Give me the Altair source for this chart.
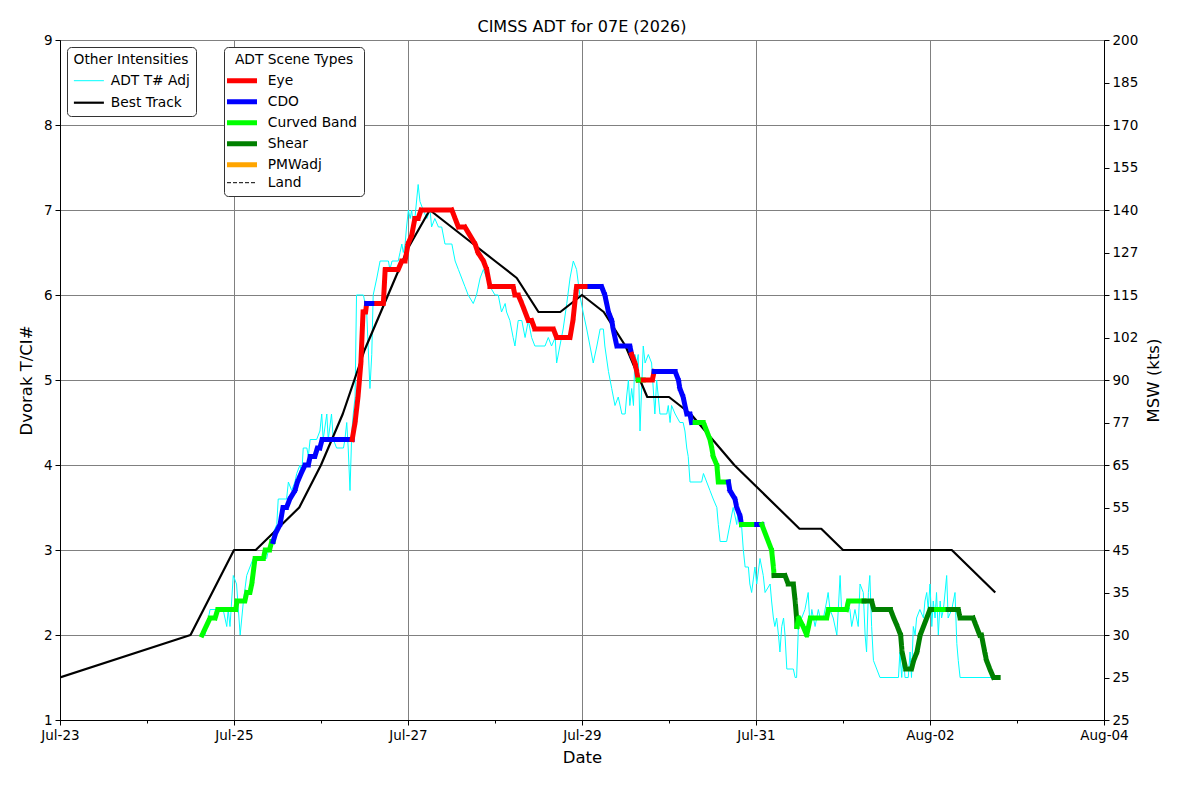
import altair as alt
import pandas as pd

# ---------------- data ----------------
START = "2026-07-23T00:00:00Z"
T0 = int(pd.Timestamp(START).value // 10**6)
HOUR = 3600000
DAY = 86400000
N_DAYS = 12

# Best Track (hours after 23 Jul 00Z, Dvorak T#)
bt_hours = [0, 36, 48, 54, 60, 66, 72, 78, 84, 90, 96, 102, 108, 114, 120, 126,
            132, 138, 144, 150, 156, 162, 168, 174, 180, 186, 192, 198, 204, 210,
            216, 222, 228, 234, 240, 246, 252, 258]
bt_tnum = [1.5, 2.0, 3.0, 3.0, 3.25, 3.5, 4.0, 4.6, 5.35, 5.95, 6.55, 7.0, 6.8, 6.6, 6.4, 6.2,
           5.8, 5.8, 6.0, 5.8, 5.4, 4.8, 4.8, 4.6, 4.3, 4.0, 3.75, 3.5, 3.25, 3.25,
           3.0, 3.0, 3.0, 3.0, 3.0, 3.0, 2.75, 2.5]

# ADT T# Adj (hours, T#)
adt_points = [
    (38.6, 2.0), (40.0, 2.0), (41.4, 2.3), (45.0, 2.3), (46.0, 2.1), (46.4, 2.3), (46.9, 2.1),
    (47.8, 2.7), (48.7, 2.6), (49.7, 2.0), (50.6, 2.4), (51.5, 2.7), (52.4, 2.8), (53.3, 2.9),
    (57.0, 2.9), (57.5, 3.0), (58.4, 3.1), (58.8, 3.2), (59.8, 3.3), (60.2, 3.6), (62.5, 3.6),
    (63.0, 3.8), (63.9, 3.7), (64.8, 3.8), (65.3, 3.9), (66.2, 4.0), (66.7, 3.9), (67.1, 4.2),
    (68.1, 4.2), (68.5, 4.1), (69.0, 4.3), (70.8, 4.3), (71.7, 4.4), (72.2, 4.6), (72.6, 4.3),
    (73.6, 4.6), (74.0, 4.3), (74.9, 4.6), (75.4, 4.3), (76.3, 4.2), (78.2, 4.2), (78.6, 4.3),
    (79.1, 4.5), (79.5, 4.2), (80.0, 3.7), (80.5, 4.4), (80.9, 4.6), (81.4, 4.8), (81.8, 6.0),
    (83.7, 6.0), (84.6, 5.8), (85.5, 4.9), (86.0, 5.3), (86.4, 6.0), (87.4, 6.2), (88.3, 6.4),
    (90.6, 6.4), (91.0, 6.3), (91.6, 6.4), (93.3, 6.4), (93.8, 6.5), (94.3, 6.6), (94.7, 6.5),
    (95.2, 6.6), (95.6, 6.8), (96.1, 7.0), (96.6, 6.9), (97.0, 7.0), (97.5, 6.8), (97.9, 6.9),
    (98.8, 7.3), (99.3, 7.1), (100.2, 7.0), (101.2, 6.9), (102.1, 7.0), (102.5, 6.8), (103.4, 6.9),
    (104.4, 6.8), (105.3, 6.8), (106.2, 6.6), (108.1, 6.6), (109.0, 6.4), (109.9, 6.3), (110.8, 6.2),
    (111.7, 6.1), (112.6, 6.0), (114.0, 5.9), (114.9, 6.0), (115.9, 6.2), (116.8, 6.3), (117.7, 6.2),
    (118.6, 6.1), (120.0, 6.0), (120.9, 6.0), (121.8, 5.8), (122.8, 5.9), (123.2, 5.8), (124.1, 5.7),
    (125.0, 5.5), (125.5, 5.4), (126.4, 5.7), (127.4, 5.7), (128.3, 5.5), (129.2, 5.7), (130.1, 5.5),
    (131.0, 5.4), (133.8, 5.4), (134.7, 5.5), (135.6, 5.4), (136.6, 5.5), (137.0, 5.2), (137.9, 5.4),
    (138.8, 5.6), (139.8, 5.9), (140.7, 6.2), (141.6, 6.4), (142.5, 6.3), (143.4, 6.0), (144.3, 5.8),
    (145.3, 5.6), (146.2, 5.4), (147.1, 5.2), (148.1, 5.4), (149.0, 5.6), (149.9, 5.6), (150.3, 5.4),
    (151.3, 5.1), (152.2, 4.9), (153.1, 4.7), (154.0, 4.8), (155.0, 4.6), (155.9, 4.6), (156.3, 4.8),
    (156.8, 5.0), (157.2, 4.7), (157.7, 4.9), (158.2, 4.7), (158.6, 5.3), (159.1, 5.2), (159.5, 5.3),
    (160.0, 4.4), (160.9, 5.4), (161.4, 5.2), (162.3, 5.3), (163.2, 5.2), (164.1, 4.6), (164.6, 5.0),
    (165.5, 4.6), (167.4, 4.6), (167.8, 4.7), (168.3, 4.5), (168.7, 4.7), (169.7, 4.6), (171.0, 4.5),
    (171.9, 4.5), (172.4, 4.4), (172.9, 4.2), (173.3, 4.1), (173.8, 3.8), (177.0, 3.8), (177.5, 3.9),
    (178.4, 3.8), (179.3, 3.7), (180.2, 3.6), (181.2, 3.5), (181.6, 3.3), (182.1, 3.1), (183.9, 3.1),
    (184.8, 3.3), (185.7, 3.5), (186.7, 3.3), (187.1, 3.5), (187.6, 3.4), (188.0, 3.3), (188.5, 3.0),
    (189.0, 2.8), (189.9, 2.8), (190.3, 2.6), (190.8, 2.5), (191.7, 2.8), (192.2, 2.6), (193.1, 2.9),
    (194.0, 2.7), (194.5, 2.5), (195.9, 2.6), (196.3, 2.4), (196.8, 2.2), (197.2, 2.1), (197.7, 2.2),
    (198.2, 2.0), (198.6, 1.8), (199.1, 2.1), (199.6, 2.2), (200.0, 2.0), (200.5, 1.6), (202.3, 1.6),
    (202.8, 1.5), (203.2, 1.5), (203.7, 2.1), (204.6, 2.2), (205.5, 2.3), (206.4, 2.5), (206.9, 2.1),
    (207.4, 2.3), (208.3, 2.1), (209.2, 2.3), (209.7, 2.2), (210.6, 2.2), (211.5, 2.4), (211.9, 2.5),
    (212.4, 2.3), (213.3, 2.2), (214.3, 2.0), (214.7, 2.3), (215.2, 2.7), (215.6, 2.3), (216.6, 2.3),
    (217.0, 2.4), (217.9, 2.3), (218.4, 2.1), (219.3, 2.3), (220.2, 2.1), (220.7, 2.6), (221.6, 2.5),
    (222.1, 2.0), (222.5, 1.8), (223.0, 2.5), (223.4, 2.7), (223.9, 2.1), (224.4, 1.7), (225.3, 1.6),
    (226.2, 1.5), (231.3, 1.5), (231.7, 1.8), (232.2, 1.5), (232.6, 1.8), (233.1, 1.5), (234.0, 1.5),
    (234.5, 1.8), (234.9, 1.5), (235.4, 2.1), (235.9, 2.0), (236.3, 2.2), (237.2, 2.3), (238.2, 2.2),
    (238.6, 2.4), (239.1, 2.5), (239.5, 2.3), (240.0, 2.6), (240.5, 2.1), (240.9, 2.4), (241.4, 2.2),
    (241.8, 2.5), (242.3, 2.0), (242.8, 2.4), (243.2, 2.2), (243.7, 2.3), (244.6, 2.7), (245.0, 2.2),
    (246.0, 2.3), (246.9, 2.5), (247.4, 1.9), (247.8, 1.7), (248.3, 1.5), (257.9, 1.5),
]

# ADT final T# coloured by scene type: runs of (scene, [(hours, T#), ...])
scene_runs = [
    ("Curved Band", [(39.2, 2.0), (40.3, 2.1), (41.4, 2.2), (42.8, 2.2), (43.5, 2.3), (48.5, 2.3),
                     (48.8, 2.4), (51.0, 2.4), (51.5, 2.5), (52.4, 2.5), (52.9, 2.6), (53.8, 2.9),
                     (56.1, 2.9), (56.6, 3.0), (57.8, 3.0), (58.4, 3.1), (58.8, 3.1)]),
    ("CDO", [(58.8, 3.1), (59.5, 3.2), (60.7, 3.3), (61.5, 3.5), (62.5, 3.5), (63.4, 3.6),
             (64.8, 3.7), (65.5, 3.8), (66.5, 3.9), (67.6, 4.0), (68.5, 4.0), (69.0, 4.1),
             (70.3, 4.1), (71.0, 4.2), (71.7, 4.2), (72.3, 4.3), (80.6, 4.3)]),
    ("Eye", [(80.6, 4.3), (81.4, 4.5), (82.2, 4.8), (83.0, 5.2), (83.6, 5.8), (84.3, 5.8), (84.6, 5.9)]),
    ("CDO", [(84.6, 5.9), (87.4, 5.9)]),
    ("Eye", [(87.4, 5.9), (89.2, 5.9), (89.7, 6.3), (93.3, 6.3), (94.3, 6.4), (95.2, 6.4),
             (96.0, 6.6), (97.0, 6.7), (97.9, 6.9), (98.8, 6.9), (99.6, 7.0), (108.1, 7.0),
             (109.0, 6.9), (109.9, 6.8), (111.7, 6.8), (113.1, 6.7), (114.5, 6.6), (115.3, 6.5),
             (116.8, 6.4), (117.7, 6.3), (118.6, 6.1), (125.0, 6.1), (125.5, 6.0), (126.4, 6.0),
             (127.4, 5.9), (128.3, 5.8), (129.2, 5.7), (130.1, 5.7), (131.0, 5.6), (136.1, 5.6),
             (137.0, 5.5), (140.7, 5.5), (141.5, 5.7), (142.5, 6.1), (146.2, 6.1)]),
    ("CDO", [(146.2, 6.1), (149.4, 6.1), (150.3, 6.0), (151.3, 5.8), (152.2, 5.7), (152.6, 5.6),
             (153.1, 5.5), (153.6, 5.4), (157.2, 5.4), (157.7, 5.3)]),
    ("Eye", [(157.7, 5.3), (158.6, 5.2), (159.1, 5.1), (159.5, 5.0)]),
    ("Curved Band", [(159.5, 5.0), (160.9, 5.0)]),
    ("Eye", [(160.9, 5.0), (163.4, 5.0), (163.9, 5.1)]),
    ("CDO", [(163.9, 5.1), (169.7, 5.1), (170.6, 5.0), (171.0, 4.9), (171.9, 4.8), (172.4, 4.7),
             (172.9, 4.6), (173.8, 4.6), (174.2, 4.5), (175.2, 4.5)]),
    ("Curved Band", [(175.2, 4.5), (177.5, 4.5), (178.4, 4.4), (179.3, 4.3), (179.8, 4.2),
                     (180.2, 4.1), (181.2, 4.0), (181.6, 3.8), (184.4, 3.8)]),
    ("CDO", [(184.4, 3.8), (184.8, 3.7), (186.2, 3.6), (186.7, 3.5), (187.6, 3.4), (188.0, 3.3)]),
    ("Curved Band", [(188.0, 3.3), (192.2, 3.3)]),
    ("CDO", [(192.2, 3.3), (193.6, 3.3)]),
    ("Curved Band", [(193.6, 3.3), (194.5, 3.2), (195.4, 3.1), (196.3, 3.0), (196.8, 2.8), (197.0, 2.7)]),
    ("Shear", [(197.0, 2.7), (200.0, 2.7), (200.9, 2.6), (202.3, 2.6), (202.8, 2.4), (203.2, 2.2),
               (203.3, 2.1)]),
    ("Curved Band", [(203.3, 2.1), (203.8, 2.2), (205.0, 2.1), (206.0, 2.0), (207.0, 2.2), (211.5, 2.2),
                     (212.0, 2.3), (217.0, 2.3), (217.5, 2.4), (221.8, 2.4)]),
    ("Shear", [(221.8, 2.4), (223.9, 2.4), (224.5, 2.3), (229.1, 2.3), (230.0, 2.2), (231.0, 2.1),
               (231.9, 2.0), (232.3, 1.8), (232.8, 1.7), (233.3, 1.6), (234.9, 1.6), (235.5, 1.7),
               (236.4, 1.8), (237.3, 2.0), (238.2, 2.1), (239.1, 2.2), (240.0, 2.3), (241.8, 2.3)]),
    ("Curved Band", [(241.8, 2.3), (245.0, 2.3)]),
    ("Shear", [(245.0, 2.3), (247.8, 2.3), (248.3, 2.2), (251.9, 2.2), (252.8, 2.1), (253.7, 2.0),
               (254.2, 2.0), (255.1, 1.8), (255.6, 1.7), (256.5, 1.6), (257.5, 1.5), (258.8, 1.5)]),
]

other_names = ["ADT T# Adj", "Best Track"]
other_colors = ["#00ffff", "#000000"]
other_widths = [1, 2.2]

scene_names = ["Eye", "CDO", "Curved Band", "Shear", "PMWadj", "Land"]
scene_colors = ["#ff0000", "#0000ff", "#00ff00", "#008000", "#ffa500", "#000000"]
scene_dash = [[1, 0], [1, 0], [1, 0], [1, 0], [1, 0], [4, 2]]
scene_widths = [5, 5, 5, 5, 5, 1]

tnum_ticks = [1, 1.5, 2, 2.5, 3, 3.5, 4, 4.5, 5, 5.5, 6, 6.5, 7, 7.5, 8, 8.5, 9]
msw_labels = ["25", "25", "30", "35", "45", "55", "65", "77", "90", "102",
              "115", "127", "140", "155", "170", "185", "200"]

# ---------------- tables ----------------
def ts(h):
    return T0 + int(round(h * HOUR))

other_rows = [{"t": ts(h), "v": v, "series": "ADT T# Adj"} for h, v in adt_points]
other_rows += [{"t": ts(h), "v": v, "series": "Best Track"} for h, v in zip(bt_hours, bt_tnum)]
other_df = pd.DataFrame(other_rows)

scene_rows = []
for i, (name, pts) in enumerate(scene_runs):
    for h, v in pts:
        scene_rows.append({"t": ts(h), "v": v, "scene": name, "seg": i})
scene_df = pd.DataFrame(scene_rows)

bt_df = pd.DataFrame({"t": [ts(h) for h in bt_hours], "v": bt_tnum})

# ---------------- encodings ----------------
FONT = "DejaVu Sans"
even = f"round((datum.value - {T0}) / {DAY}) % 2 == 0"

x_enc = alt.X(
    "t:T",
    scale=alt.Scale(type="utc", domain=[T0, T0 + N_DAYS * DAY]),
    axis=alt.Axis(
        values=[T0 + d * DAY for d in range(N_DAYS + 1)],
        labelExpr=f"{even} ? utcFormat(datum.value, '%b-%d') : ''",
        title="Date",
        grid=True,
        gridColor="#808080",
        gridOpacity={"condition": {"test": even, "value": 1}, "value": 0},
        tickSize={"condition": {"test": even, "value": 5}, "value": 3},
        labelPadding=3,
        titlePadding=8,
        labelFlush=False,
        labelOverlap=False,
    ),
)

y_scale = alt.Scale(domain=[1, 9], nice=False, zero=False)

y_left = alt.Y(
    "v:Q",
    scale=y_scale,
    axis=alt.Axis(
        values=list(range(1, 10)),
        title="Dvorak T/CI#",
        grid=True,
        gridColor="#808080",
        tickSize=5,
        labelPadding=3,
        titlePadding=9,
        labelFlush=False,
    ),
)

leg_common = dict(
    orient="none",
    columns=1,
    direction="vertical",
    symbolSize=36,
    titleAnchor="middle",
    titleFontWeight="normal",
    titleFontSize=13.8,
    labelFontSize=13.8,
    titleColor="black",
    labelColor="black",
    strokeColor="#333333",
    fillColor="white",
    cornerRadius=4,
    padding=6,
    titlePadding=7,
)
leg_other = alt.Legend(title="Other Intensities", legendX=7, legendY=7, labelOffset=24,
                       symbolType="M-2,0L8,0", rowPadding=7, **leg_common)
leg_scene = alt.Legend(title="ADT Scene Types", legendX=164, legendY=7, labelOffset=24,
                       symbolType="M-3.3,0L6.7,0", rowPadding=0, **leg_common)

other = alt.Chart(other_df).mark_line(clip=True, strokeJoin="round").encode(
    x=x_enc,
    y=y_left,
    color=alt.Color("series:N", scale=alt.Scale(domain=other_names, range=other_colors), legend=leg_other),
    strokeWidth=alt.StrokeWidth("series:N",
                                scale=alt.Scale(type="ordinal", domain=other_names, range=other_widths),
                                legend=leg_other),
)

scene = alt.Chart(scene_df).mark_line(clip=True, strokeJoin="round", strokeCap="square").encode(
    x="t:T",
    y=alt.Y("v:Q", scale=y_scale, axis=None),
    color=alt.Color("scene:N", scale=alt.Scale(domain=scene_names, range=scene_colors), legend=leg_scene),
    strokeDash=alt.StrokeDash("scene:N", scale=alt.Scale(domain=scene_names, range=scene_dash), legend=leg_scene),
    strokeWidth=alt.StrokeWidth("scene:N",
                                scale=alt.Scale(type="ordinal", domain=scene_names, range=scene_widths),
                                legend=leg_scene),
    detail="seg:N",
)

label_array = "[" + ",".join(f"'{s}'" for s in msw_labels) + "]"
right = alt.Chart(bt_df).mark_line(strokeOpacity=0).encode(
    x="t:T",
    y=alt.Y(
        "v:Q",
        scale=y_scale,
        axis=alt.Axis(
            orient="right",
            values=tnum_ticks,
            labelExpr=f"{label_array}[round((datum.value - 1) * 2)]",
            title="MSW (kts)",
            titleAngle=270,
            titleBaseline="top",
            grid=False,
            tickSize=5,
            labelPadding=3,
            titlePadding=8,
            labelFlush=False,
        ),
    ),
)

chart = (
    alt.layer(other, scene, right)
    .resolve_scale(y="independent", color="independent", strokeWidth="independent", strokeDash="independent")
    .properties(
        width=1044,
        height=680,
        title=alt.TitleParams("CIMSS ADT for 07E (2026)", fontSize=16, fontWeight="normal",
                              color="black", anchor="middle", offset=-2, font=FONT),
        autosize=alt.AutoSizeParams(type="none"),
        padding={"left": 52, "top": 32, "right": 80, "bottom": 60},
    )
    .configure(font=FONT)
    .configure_view(stroke="black", strokeWidth=1)
    .configure_axis(
        labelFont=FONT, titleFont=FONT, labelColor="black", titleColor="black",
        tickColor="black", domainColor="black", labelFontSize=13.5, titleFontSize=16.5,
        titleFontWeight="normal",
    )
)

chart.save("out.html", embed_options={"renderer": "svg", "actions": False})
